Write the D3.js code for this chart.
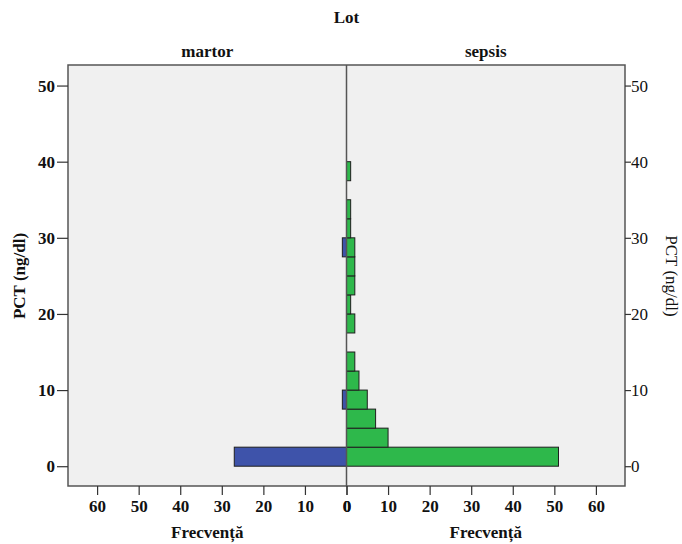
<!DOCTYPE html>
<html>
<head>
<meta charset="utf-8">
<script src="https://cdn.jsdelivr.net/npm/d3@7"></script>
<style>
  html, body { margin: 0; padding: 0; background: #fff; }
  svg text { font-family: "Liberation Serif", "Times New Roman", serif; fill: #111; }
</style>
</head>
<body>
<svg id="chart" width="682" height="544"></svg>
<script>
// PCT histogram bins (ng/dl), 2.5 wide, by group
const binStarts = [0, 2.5, 5, 7.5, 10, 12.5, 15, 17.5, 20, 22.5, 25, 27.5, 30, 32.5, 35, 37.5];
const binWidth = 2.5;
const martorCounts = [27, 0, 0, 1, 0, 0, 0, 0, 0, 0, 0, 1, 0, 0, 0, 0];
const sepsisCounts = [51, 10, 7, 5, 3, 2, 0, 2, 1, 2, 2, 2, 1, 1, 0, 1];
const groups = ["martor", "sepsis"];
const freqTicks = [0, 10, 20, 30, 40, 50, 60];
const pctTicks = [0, 10, 20, 30, 40, 50];

const svg = d3.select("#chart");
const plotL = 68, plotR = 625, plotT = 65, plotB = 486, mid = 346.5;
const fs = 17;

const y = d3.scaleLinear().domain([-2.6, 52.7]).range([plotB, plotT]);
const xL = d3.scaleLinear().domain([0, 67]).range([mid, plotL]);
const xR = d3.scaleLinear().domain([0, 67]).range([mid, plotR]);

// plot area
svg.append("rect")
  .attr("x", plotL).attr("y", plotT)
  .attr("width", plotR - plotL).attr("height", plotB - plotT)
  .attr("fill", "#f0f0f0");

const rows = binStarts.map((b, i) => ({ b, m: martorCounts[i], s: sepsisCounts[i] }));

// martor bars (extend leftwards)
svg.append("g").selectAll("rect")
  .data(rows.filter(d => d.m > 0)).join("rect")
  .attr("x", d => xL(d.m))
  .attr("y", d => y(d.b + binWidth))
  .attr("width", d => mid - xL(d.m))
  .attr("height", d => y(d.b) - y(d.b + binWidth))
  .attr("fill", "#3e53aa")
  .attr("stroke", "#1f1f1f").attr("stroke-width", 1);

// sepsis bars (extend rightwards)
svg.append("g").selectAll("rect")
  .data(rows.filter(d => d.s > 0)).join("rect")
  .attr("x", mid)
  .attr("y", d => y(d.b + binWidth))
  .attr("width", d => xR(d.s) - mid)
  .attr("height", d => y(d.b) - y(d.b + binWidth))
  .attr("fill", "#2eb84b")
  .attr("stroke", "#1f1f1f").attr("stroke-width", 1);

// frame and centre divider
svg.append("rect")
  .attr("x", plotL).attr("y", plotT)
  .attr("width", plotR - plotL).attr("height", plotB - plotT)
  .attr("fill", "none").attr("stroke", "#555").attr("stroke-width", 1.5);
svg.append("line")
  .attr("x1", mid).attr("x2", mid).attr("y1", plotT).attr("y2", plotB)
  .attr("stroke", "#555").attr("stroke-width", 1.5);

// bottom frequency axes
function freqAxis(scale, cls) {
  const g = svg.append("g").attr("class", cls).attr("transform", `translate(0,${plotB})`)
    .call(d3.axisBottom(scale).tickValues(freqTicks).tickSize(9).tickPadding(5).tickSizeOuter(0));
  g.select(".domain").remove();
  g.selectAll(".tick line").attr("stroke", "#333").attr("stroke-width", 1.2);
  g.selectAll(".tick text")
    .attr("font-size", fs).attr("font-weight", "bold")
    .attr("font-family", "Liberation Serif, serif").attr("fill", "#111");
}
freqAxis(xL, "ax-left");
freqAxis(xR, "ax-right");

// left PCT axis
const gyl = svg.append("g").attr("transform", `translate(${plotL},0)`)
  .call(d3.axisLeft(y).tickValues(pctTicks).tickSize(11).tickPadding(2).tickSizeOuter(0));
gyl.select(".domain").remove();
gyl.selectAll(".tick line").attr("stroke", "#333").attr("stroke-width", 1.2);
gyl.selectAll(".tick text")
  .attr("font-size", fs).attr("font-weight", "bold")
  .attr("font-family", "Liberation Serif, serif").attr("fill", "#111");

// right PCT axis
const gyr = svg.append("g").attr("transform", `translate(${plotR},0)`)
  .call(d3.axisRight(y).tickValues(pctTicks).tickSize(6).tickPadding(0).tickSizeOuter(0));
gyr.select(".domain").remove();
gyr.selectAll(".tick line").attr("stroke", "#333").attr("stroke-width", 1.2);
gyr.selectAll(".tick text")
  .attr("font-size", fs)
  .attr("font-family", "Liberation Serif, serif").attr("fill", "#111");

// titles
svg.append("text").attr("x", mid).attr("y", 23)
  .attr("text-anchor", "middle").attr("font-size", fs).attr("font-weight", "bold").text("Lot");

const panelCenters = [(plotL + mid) / 2, (mid + plotR) / 2];
groups.forEach((g, i) => {
  svg.append("text").attr("x", panelCenters[i]).attr("y", 57)
    .attr("text-anchor", "middle").attr("font-size", fs).attr("font-weight", "bold").text(g);
  svg.append("text").attr("x", panelCenters[i]).attr("y", 538)
    .attr("text-anchor", "middle").attr("font-size", fs).attr("font-weight", "bold").text("Frecvență");
});

svg.append("text")
  .attr("transform", `translate(25,276) rotate(-90)`)
  .attr("text-anchor", "middle").attr("font-size", fs).attr("font-weight", "bold")
  .text("PCT (ng/dl)");
svg.append("text")
  .attr("transform", `translate(666,276) rotate(90)`)
  .attr("text-anchor", "middle").attr("font-size", fs)
  .text("PCT (ng/dl)");
</script>
</body>
</html>
